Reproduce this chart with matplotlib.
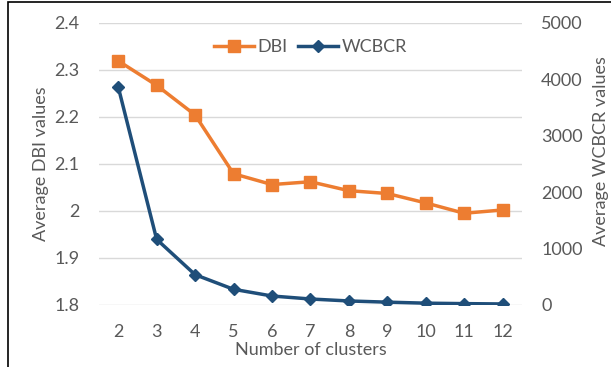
import matplotlib
matplotlib.use('Agg')
import matplotlib.pyplot as plt
from matplotlib.patches import Rectangle

plt.rcParams['font.family'] = ['Lato', 'DejaVu Sans']

clusters = [2, 3, 4, 5, 6, 7, 8, 9, 10, 11, 12]
dbi = [2.319, 2.267, 2.204, 2.079, 2.056, 2.062, 2.043, 2.037, 2.017, 1.995, 2.002]
wcbcr = [3865, 1163, 537, 278, 159, 106, 71, 50, 32, 24, 18]

orange = '#ED7D31'
blue = '#1F4E79'
grey = '#595959'

fig = plt.figure(figsize=(6.11, 3.67), dpi=100)
ax = fig.add_axes([0.162, 0.169, 0.692, 0.769])
ax2 = ax.twinx()

# gridlines follow the left axis
ax.set_ylim(1.8, 2.4)
ax.set_yticks([1.8, 1.9, 2.0, 2.1, 2.2, 2.3, 2.4])
ax.set_yticklabels(['1.8', '1.9', '2', '2.1', '2.2', '2.3', '2.4'])
ax.grid(axis='y', color='#d9d9d9', lw=1)
ax.set_axisbelow(True)
ax.set_xlim(1.5, 12.5)
ax.set_xticks(clusters)

ax2.set_ylim(0, 5000)
ax2.set_yticks([0, 1000, 2000, 3000, 4000, 5000])

l1, = ax.plot(clusters, dbi, color=orange, lw=2.5, marker='s', ms=8, label='DBI')
l2, = ax.plot([], [], color=blue, lw=2.5, marker='D', ms=6.5, label='WCBCR')
ax2.plot(clusters, wcbcr, color=blue, lw=2.5, marker='D', ms=6.5)

fs = 13
for a in (ax, ax2):
    for s in a.spines.values():
        s.set_visible(False)
    a.tick_params(length=0, labelsize=fs, colors=grey)
ax.tick_params(axis='y', pad=14)
ax.tick_params(axis='x', pad=14)
ax2.tick_params(axis='y', pad=14)

ax.set_xlabel('Number of clusters', fontsize=fs, color=grey, labelpad=1)
ax.set_ylabel('Average DBI values', fontsize=fs, color=grey, labelpad=4)
fig.text(601 / 611, 1 - 151 / 367, 'Average WCBCR values', rotation=90,
         ha='center', va='center', fontsize=fs, color=grey)

ax.legend(handles=[l1, l2], loc='upper center', bbox_to_anchor=(0.5, 1.0),
          ncol=2, frameon=False, fontsize=fs, handlelength=2.2,
          handletextpad=0.2, columnspacing=0.6, labelcolor=grey)

# outer frame (left and top edges visible)
fig.patches.append(Rectangle((8 / 611, -0.1), 1.2, 1 - 2 / 367 + 0.1,
                             transform=fig.transFigure, fill=False,
                             edgecolor='black', lw=1.2))

fig.savefig('out.png', dpi=100)
